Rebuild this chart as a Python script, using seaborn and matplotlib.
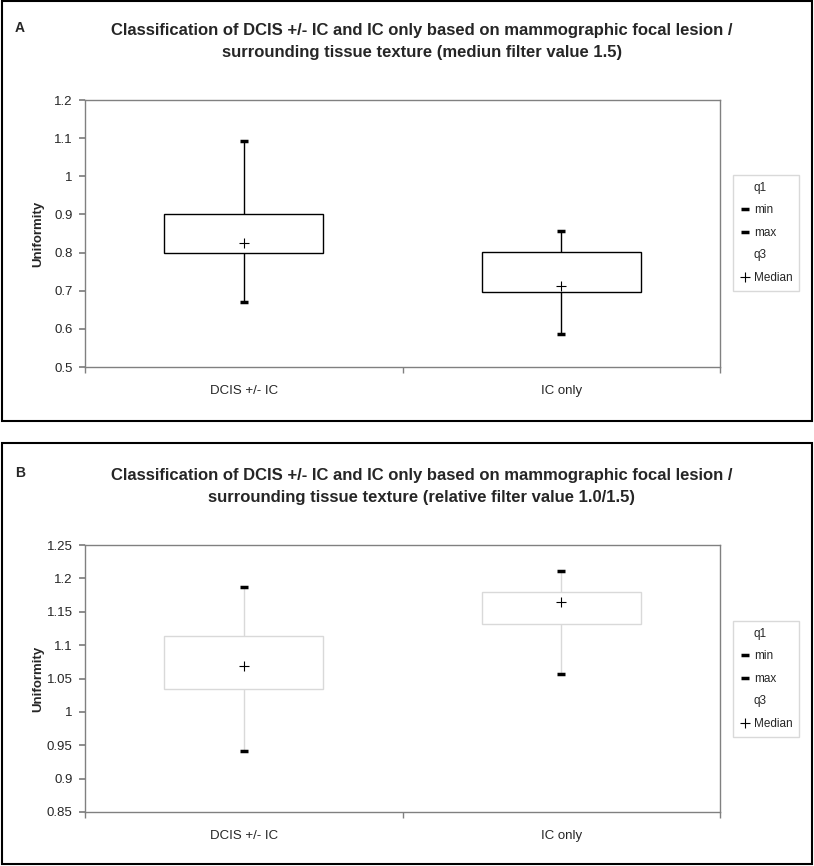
import numpy as np
import pandas as pd
import matplotlib.pyplot as plt
from matplotlib.lines import Line2D
from matplotlib.patches import Rectangle
from matplotlib.ticker import FuncFormatter, FixedLocator
import seaborn as sns

#-----------------------------------------------------------------#
# Values (min, q1, median, q3, max per group)

groups = ['DCIS +/- IC', 'IC only']

a_dcis = [0.670, 0.800, 0.826, 0.900, 1.093]
a_ic = [0.587, 0.697, 0.712, 0.802, 0.857]

b_dcis = [0.942, 1.035, 1.069, 1.113, 1.187]
b_ic = [1.056, 1.131, 1.165, 1.179, 1.211]

a_title = ('Classification of DCIS +/- IC and IC only based on mammographic focal lesion /\n'
           'surrounding tissue texture (mediun filter value 1.5)')
b_title = ('Classification of DCIS +/- IC and IC only based on mammographic focal lesion /\n'
           'surrounding tissue texture (relative filter value 1.0/1.5)')

a_ticks = [0.5, 0.6, 0.7, 0.8, 0.9, 1.0, 1.1, 1.2]
b_ticks = [0.85, 0.9, 0.95, 1.0, 1.05, 1.1, 1.15, 1.2, 1.25]

legend_labels = ['q1', 'min', 'max', 'q3', 'Median']

#-----------------------------------------------------------------#

sns.set_theme(style='white')
plt.rcParams['font.family'] = ['Liberation Sans', 'DejaVu Sans']

fig = plt.figure(figsize=(8.14, 8.66), dpi=100)
W, H = 814, 866


def box_panel(rect, first, second, ticks, edge):
    ax = fig.add_axes(rect)
    df = pd.DataFrame({'group': [groups[0]] * 5 + [groups[1]] * 5,
                       'value': first + second})
    # five values per group, so the quartiles land exactly on q1/median/q3
    sns.boxplot(data=df, x='group', y='value', ax=ax, whis=(0, 100),
                width=0.5, color='white', saturation=1, linecolor=edge,
                linewidth=1, fliersize=0,
                medianprops={'visible': False},
                capprops={'visible': False})
    pos = np.arange(len(groups))
    mins = [first[0], second[0]]
    maxs = [first[4], second[4]]
    meds = [first[2], second[2]]
    for vals in (mins, maxs):
        sns.scatterplot(x=pos, y=vals, ax=ax, marker='_', s=36,
                        color='black', linewidth=2.5, zorder=5)
    sns.scatterplot(x=pos, y=meds, ax=ax, marker='+', s=50,
                    color='black', linewidth=0.8, zorder=5)

    ax.set_xlim(-0.5, 1.5)
    ax.set_ylim(ticks[0], ticks[-1])
    ax.set_yticks(ticks)
    ax.yaxis.set_major_formatter(FuncFormatter(lambda v, p: f'{round(v, 2):g}'))
    ax.set_xticks(pos)
    ax.set_xticklabels(groups)
    ax.xaxis.set_minor_locator(FixedLocator([-0.5, 0.5, 1.5]))
    ax.tick_params(axis='x', which='major', length=0, pad=13, labelsize=9.5)
    ax.tick_params(axis='x', which='minor', length=4, color='#808080',
                   direction='out', bottom=True)
    ax.tick_params(axis='y', length=4, color='#808080', direction='out',
                   left=True, labelsize=9.5, pad=5)
    for s in ax.spines.values():
        s.set_color('#808080')
        s.set_linewidth(1)
    ax.set_xlabel('')
    ax.set_ylabel('Uniformity', fontweight='bold', fontsize=9.5)
    ax.yaxis.set_label_coords(-0.064, 0.5)
    return ax


def add_legend(anchor_y):
    handles = [Line2D([], [], ls='none'),
               Line2D([], [], ls='none', marker='_', color='black', ms=6, mew=2.5),
               Line2D([], [], ls='none', marker='_', color='black', ms=6, mew=2.5),
               Line2D([], [], ls='none'),
               Line2D([], [], ls='none', marker='+', color='black', ms=7, mew=0.8)]
    fig.legend(handles, legend_labels, loc='upper left',
               bbox_to_anchor=(733 / W, anchor_y), fontsize=8.5,
               frameon=True, fancybox=False, edgecolor='#d0d0d0',
               handlelength=0.8, handletextpad=0.35, labelspacing=0.88,
               borderpad=0.6, borderaxespad=0)


# Panel A
box_panel([85 / W, 1 - 367 / H, 635 / W, 267 / H], a_dcis, a_ic, a_ticks, 'black')
fig.text(422 / W, 1 - 41.5 / H, a_title, ha='center', va='center',
         fontsize=12, fontweight='bold', linespacing=1.6)
fig.text(15 / W, 1 - 28 / H, 'A', fontsize=10, fontweight='bold', va='center')
add_legend(1 - 175 / H)

# Panel B
box_panel([85 / W, 1 - 812 / H, 635 / W, 267 / H], b_dcis, b_ic, b_ticks, '#d9d9d9')
fig.text(422 / W, 1 - 486.5 / H, b_title, ha='center', va='center',
         fontsize=12, fontweight='bold', linespacing=1.6)
fig.text(15 / W, 1 - 473 / H, 'B', fontsize=10, fontweight='bold', va='center')
add_legend(1 - 621 / H)

# Black frames round each panel
for y0, y1 in [(1, 421), (443, 864)]:
    fig.add_artist(Rectangle((1.5 / W, 1 - y1 / H), 810 / W, (y1 - y0) / H,
                             transform=fig.transFigure, fill=False,
                             edgecolor='black', linewidth=1.5))

fig.savefig('out.png', dpi=100)
